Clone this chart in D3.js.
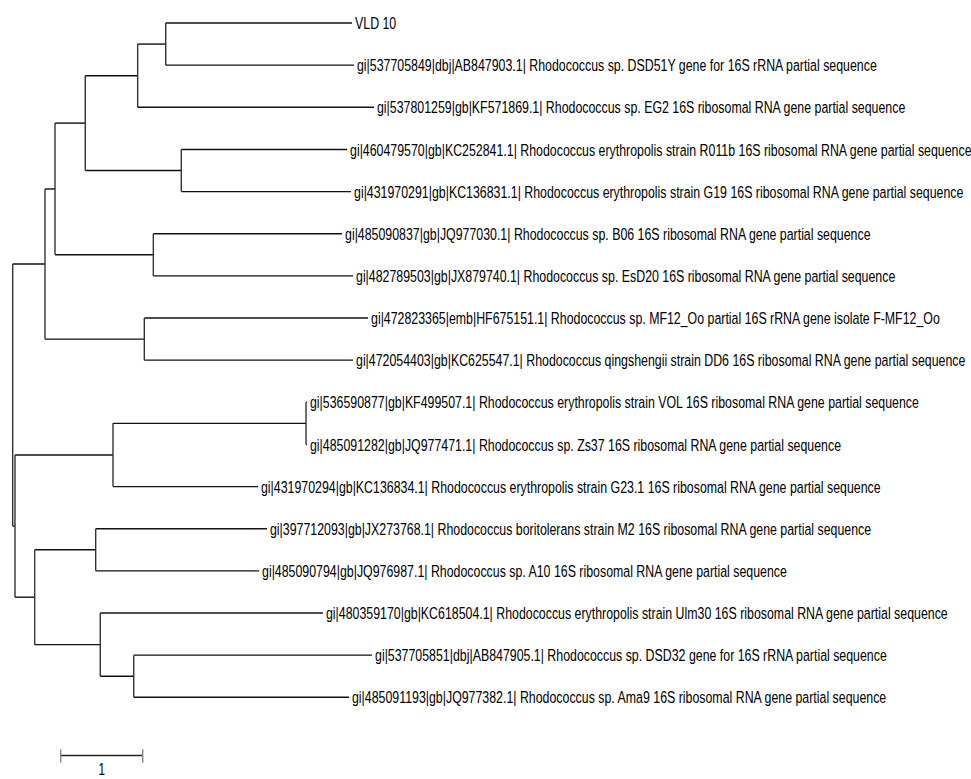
<!DOCTYPE html>
<html>
<head>
<meta charset="utf-8">
<script src="https://cdn.jsdelivr.net/npm/d3@7"></script>
<style>
  body { margin: 0; background: #fff; }
  text { font-family: "Liberation Sans", Arial, sans-serif; }
</style>
</head>
<body>
<div id="chart"></div>
<script>
// tree topology: node id, parent id, branch length (substitutions)
const ids = ['root', 'n1', 'n2', 'n3', 'n4', 'n5', 'n6', 'n7', 'n8', 'n9', 'n10', 'n11', 'n12', 'n13', 'n14',
  'L1', 'L2', 'L3', 'L4', 'L5', 'L6', 'L7', 'L8', 'L9', 'L10', 'L11', 'L12', 'L13', 'L14', 'L15', 'n15', 'L16', 'L17']
const parents = [null, 'root', 'root', 'n1', 'n1', 'n3', 'n3', 'n5', 'n5', 'n7', 'n2', 'n10', 'n2', 'n12', 'n12',
  'n9', 'n9', 'n7', 'n8', 'n8', 'n6', 'n6', 'n4', 'n4', 'n11', 'n11', 'n10', 'n13', 'n13', 'n14', 'n14', 'n15', 'n15']
const lengths = [0, 0.394, 0.028, 0.122, 1.211, 0.369, 1.199, 0.639, 1.171, 0.342, 1.195, 2.354, 0.240, 0.744, 0.800,
  2.272, 2.296, 2.882, 2.021, 2.070, 2.301, 2.435, 2.728, 2.545, 0.012, 0.012, 1.768, 2.089, 1.992, 2.716, 0.408, 2.906, 2.625]

const leafLabels = {
  L1: 'VLD 10',
  L2: 'gi|537705849|dbj|AB847903.1| Rhodococcus sp. DSD51Y gene for 16S rRNA partial sequence',
  L3: 'gi|537801259|gb|KF571869.1| Rhodococcus sp. EG2 16S ribosomal RNA gene partial sequence',
  L4: 'gi|460479570|gb|KC252841.1| Rhodococcus erythropolis strain R011b 16S ribosomal RNA gene partial sequence',
  L5: 'gi|431970291|gb|KC136831.1| Rhodococcus erythropolis strain G19 16S ribosomal RNA gene partial sequence',
  L6: 'gi|485090837|gb|JQ977030.1| Rhodococcus sp. B06 16S ribosomal RNA gene partial sequence',
  L7: 'gi|482789503|gb|JX879740.1| Rhodococcus sp. EsD20 16S ribosomal RNA gene partial sequence',
  L8: 'gi|472823365|emb|HF675151.1| Rhodococcus sp. MF12_Oo partial 16S rRNA gene isolate F-MF12_Oo',
  L9: 'gi|472054403|gb|KC625547.1| Rhodococcus qingshengii strain DD6 16S ribosomal RNA gene partial sequence',
  L10: 'gi|536590877|gb|KF499507.1| Rhodococcus erythropolis strain VOL 16S ribosomal RNA gene partial sequence',
  L11: 'gi|485091282|gb|JQ977471.1| Rhodococcus sp. Zs37 16S ribosomal RNA gene partial sequence',
  L12: 'gi|431970294|gb|KC136834.1| Rhodococcus erythropolis strain G23.1 16S ribosomal RNA gene partial sequence',
  L13: 'gi|397712093|gb|JX273768.1| Rhodococcus boritolerans strain M2 16S ribosomal RNA gene partial sequence',
  L14: 'gi|485090794|gb|JQ976987.1| Rhodococcus sp. A10 16S ribosomal RNA gene partial sequence',
  L15: 'gi|480359170|gb|KC618504.1| Rhodococcus erythropolis strain Ulm30 16S ribosomal RNA gene partial sequence',
  L16: 'gi|537705851|dbj|AB847905.1| Rhodococcus sp. DSD32 gene for 16S rRNA partial sequence',
  L17: 'gi|485091193|gb|JQ977382.1| Rhodococcus sp. Ama9 16S ribosomal RNA gene partial sequence'
}

const scaleBarValue = 1

const width = 971
const height = 779

const svg = d3.select('#chart')
  .append('svg')
  .attr('width', width)
  .attr('height', height)

const table = ids.map((id, i) => ({ id, parent: parents[i], length: lengths[i] }))
const root = d3.stratify().id(d => d.id).parentId(d => d.parent)(table)

// cumulative distance from root
root.eachBefore(node => {
  node.dist = node.parent ? node.parent.dist + node.data.length : 0
})

const x = d3.scaleLinear()
  .domain([0, 1])
  .range([12.7, 94.7])

const leaves = root.leaves()
const yLeaf = d3.scalePoint()
  .domain(leaves.map(d => d.id))
  .range([23, 697.3])

root.eachAfter(node => {
  if (node.children) {
    const c = node.children
    node.y = (c[0].y + c[c.length - 1].y) / 2
  } else {
    node.y = yLeaf(node.id)
  }
  node.x = x(node.dist)
})

const g = svg.append('g')

// horizontal branches
g.selectAll('line.h')
  .data(root.descendants().filter(d => d.parent))
  .enter()
  .append('line')
    .attr('class', 'h')
    .attr('x1', d => d.parent.x)
    .attr('x2', d => d.x)
    .attr('y1', d => d.y)
    .attr('y2', d => d.y)
    .attr('stroke', '#111')
    .attr('stroke-width', 1.4)

// vertical connectors
g.selectAll('line.v')
  .data(root.descendants().filter(d => d.children))
  .enter()
  .append('line')
    .attr('class', 'v')
    .attr('x1', d => d.x)
    .attr('x2', d => d.x)
    .attr('y1', d => d.children[0].y)
    .attr('y2', d => d.children[d.children.length - 1].y)
    .attr('stroke', '#333')
    .attr('stroke-width', 1.4)

// leaf labels, squeezed horizontally to mimic a narrow face
const labels = g.selectAll('text.leaf')
  .data(leaves)
  .enter()
  .append('text')
    .attr('class', 'leaf')
    .attr('y', d => d.y)
    .attr('dy', '0.36em')
    .attr('font-size', '17px')
    .attr('fill', '#000')
    .text(d => leafLabels[d.id])

// DSD51Y label spans ~520px in the original
const probe = labels.filter(d => d.id === 'L2').node()
const squeeze = 520 / probe.getComputedTextLength()
labels
  .attr('x', 0)
  .attr('transform', d => `translate(${d.x + 3},0) scale(${squeeze},1)`)

// scale bar
const barLeft = 60.7
const barLen = x(scaleBarValue) - x(0)
const barY = 755.5
const bar = svg.append('g')
bar.append('line')
  .attr('x1', barLeft).attr('x2', barLeft + barLen)
  .attr('y1', barY).attr('y2', barY)
  .attr('stroke', '#222').attr('stroke-width', 1.4)
bar.selectAll('line.tick')
  .data([0, barLen])
  .enter()
  .append('line')
    .attr('x1', d => barLeft + d).attr('x2', d => barLeft + d)
    .attr('y1', barY - 6).attr('y2', barY + 7)
    .attr('stroke', '#888').attr('stroke-width', 1.4)
bar.append('text')
  .attr('x', 0)
  .attr('y', 775)
  .attr('text-anchor', 'middle')
  .attr('font-size', '16px')
  .attr('fill', '#000')
  .attr('transform', `translate(${barLeft + barLen / 2},0) scale(${squeeze},1)`)
  .text(scaleBarValue)
</script>
</body>
</html>
